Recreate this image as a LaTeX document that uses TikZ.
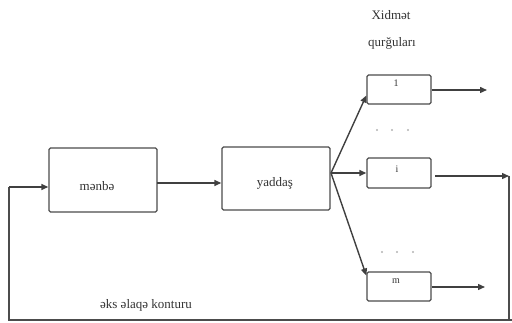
\documentclass[tikz,border=0pt]{standalone}
\usepackage{fontspec}
\setmainfont{Liberation Serif}
\usetikzlibrary{arrows.meta,calc}
\begin{document}
\begin{tikzpicture}[x=1pt,y=-1pt,
  line width=1.4pt, draw=black!70,
  box/.style={draw=black!70, rounded corners=1.5pt, inner sep=0pt, line width=1.4pt},
  lbl/.style={font=\fontsize{13}{15}\selectfont, text=black!80, inner sep=0pt},
  sml/.style={font=\fontsize{10}{12}\selectfont, text=black!80, inner sep=0pt},
  arr/.style={-{Triangle[length=7pt,width=6pt]}, draw=black!75, line width=1.4pt},
  dotc/.style={fill=black!30, draw=none}
]
\useasboundingbox (0,0) rectangle (512,323);
% main boxes
\node[box, minimum width=108pt, minimum height=64pt] (menbe) at (103,180) {};
\node[lbl] (menbeT) at (97,186) {mənbə};
\node[box, minimum width=108pt, minimum height=63pt] (yaddas) at (276,178.5) {};
\node[lbl] (yaddasT) at (275,183) {yaddaş};
% service boxes
\node[box, minimum width=64pt, minimum height=29pt] (b1) at (399,89.5) {};
\node[sml] (b1T) at (396,83) {1};
\node[box, minimum width=64pt, minimum height=30pt] (bi) at (399,173) {};
\node[sml] (biT) at (397,169) {i};
\node[box, minimum width=64pt, minimum height=29pt] (bm) at (399,286.5) {};
\node[sml] (bmT) at (396,281) {m};
% titles
\node[lbl] (t1) at (391,15) {Xidmət};
\node[lbl] (t2) at (392,43) {qurğuları};
\node[lbl] (t3) at (146,305) {əks əlaqə konturu};
% dots
\foreach \xx in {377,392,408} \fill[dotc] (\xx,130) circle (1.2pt);
\foreach \xx in {382,397,413} \fill[dotc] (\xx,252) circle (1.2pt);
% coordinates
\coordinate (F) at (331,173);
\coordinate (o1) at (487,90);
\coordinate (om) at (485,287);
\coordinate (oi) at (509,176);
\coordinate (c1) at (509,320);
\coordinate (c2) at (9,320);
\coordinate (c3) at (9,187);
% connectors
\draw[arr] (157,183) -- (yaddas.west |- 0,183);
\draw[arr] (F) -- ($(b1.west)+(0,6)$);
\draw[arr] (F) -- (bi.west);
\draw[arr] (F) -- ($(bm.west)+(0,-11)$);
\draw[arr] (b1.east |- o1) -- (o1);
\draw[arr] (bm.east |- om) -- (om);
\draw[arr] (435,176) -- (oi);
\draw (oi) -- (c1) -- (c2) -- (c3);
\draw (c1) -- (512,320);
\draw[arr] (c3) -- (menbe.west |- c3);
\end{tikzpicture}
\end{document}
